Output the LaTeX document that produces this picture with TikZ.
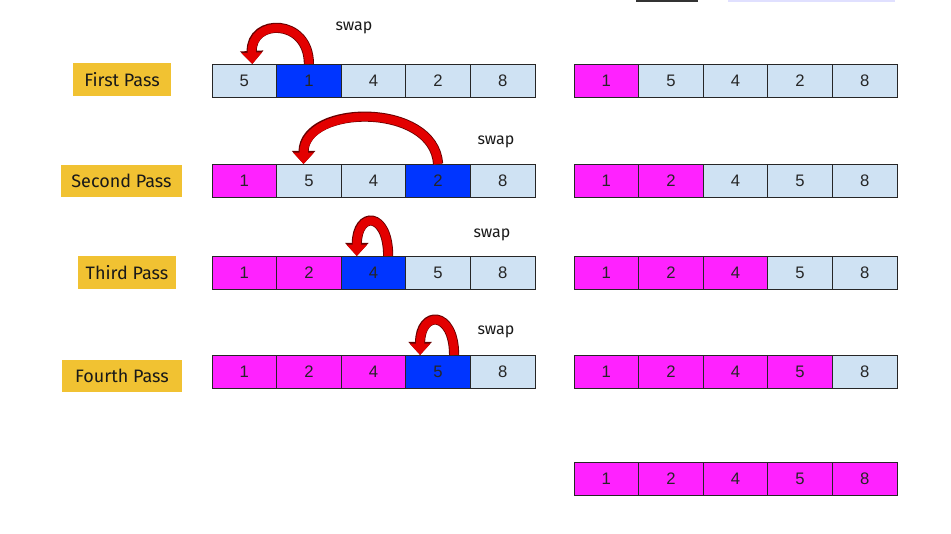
\documentclass[tikz,border=0pt]{standalone}
\usepackage{fontspec}
\setmainfont{Liberation Sans}
\newfontfamily\labelfont{Fira Sans}
\usetikzlibrary{arrows.meta}
\definecolor{lblue}{HTML}{CFE2F3}
\definecolor{dblue}{HTML}{0035FF}
\definecolor{mag}{HTML}{FF22FF}
\definecolor{gold}{HTML}{F1C232}
\definecolor{swapred}{HTML}{E30000}
\newcommand\cellrow[4]{%
  \foreach \c/\v [count=\i] in {#4} {
    \node[cell, fill=\c] (#1c\i) at ({#2+(\i-1)*64.6},#3) {\v};
  }%
}
\begin{document}
\begin{tikzpicture}[x=0.75pt,y=-0.75pt,
  cell/.style={draw=black!85, line width=0.6pt, anchor=north west,
    minimum width=48.45pt, minimum height=24.75pt, inner sep=0pt, outer sep=0pt,
    font=\fontsize{12.5}{13}\selectfont, text=black!85},
  passlabel/.style={fill=gold, inner sep=0pt, font=\labelfont\fontsize{13.5}{14}\selectfont, text=black!90},
  swaptext/.style={font=\labelfont\fontsize{12}{13}\selectfont, text=black!90},
  swaparrow/.style={draw=swapred, line width=6.3pt, -{Triangle[length=8.5pt,width=15pt]},
    preaction={draw=black!60!red, line width=7.6pt, -{Triangle[length=9.8pt,width=17pt]}}}]
\useasboundingbox (0,0) rectangle (951,534);
% cropped fragments at top right
\fill[black!80] (636,0) rectangle (698,2.5);
\fill[blue!12] (728,0) rectangle (895,2);
% labels
\node[passlabel, minimum width=73.5pt, minimum height=24.75pt] (p1) at (122,80) {First Pass};
\node[passlabel, minimum width=90.75pt, minimum height=24pt] (p2) at (121.5,181) {Second Pass};
\node[passlabel, minimum width=73.5pt, minimum height=24.75pt] (p3) at (127,272.5) {Third Pass};
\node[passlabel, minimum width=90pt, minimum height=24pt] (p4) at (122,376) {Fourth Pass};
% rows
\cellrow{L1}{212}{64}{lblue/5,dblue/1,lblue/4,lblue/2,lblue/8}
\cellrow{R1}{574}{64}{mag/1,lblue/5,lblue/4,lblue/2,lblue/8}
\cellrow{L2}{212}{164}{mag/1,lblue/5,lblue/4,dblue/2,lblue/8}
\cellrow{R2}{574}{164}{mag/1,mag/2,lblue/4,lblue/5,lblue/8}
\cellrow{L3}{212}{256}{mag/1,mag/2,dblue/4,lblue/5,lblue/8}
\cellrow{R3}{574}{256}{mag/1,mag/2,mag/4,lblue/5,lblue/8}
\cellrow{L4}{212}{355}{mag/1,mag/2,mag/4,dblue/5,lblue/8}
\cellrow{R4}{574}{355}{mag/1,mag/2,mag/4,mag/5,lblue/8}
\cellrow{R5}{574}{462}{mag/1,mag/2,mag/4,mag/5,mag/8}
% swap texts
\node[swaptext] (s1) at (354,28) {swap};
\node[swaptext] (s2) at (496,142) {swap};
\node[swaptext] (s3) at (492,235) {swap};
\node[swaptext] (s4) at (496,332) {swap};
% swap arrows
\draw[swaparrow] (L1c2.north) .. controls +(0,-46) and +(-2,-46) .. ([xshift=6pt]L1c1.north);
\draw[swaparrow] (L2c4.north) .. controls +(-4,-62) and +(0,-60) .. ([xshift=-4pt]L2c2.north);
\draw[swaparrow] ([xshift=11pt]L3c3.north) .. controls +(0,-45) and +(0,-45) .. ([xshift=-12.5pt]L3c3.north);
\draw[swaparrow] ([xshift=12pt]L4c4.north) .. controls +(0,-45) and +(0,-45) .. ([xshift=-13.5pt]L4c4.north);
\end{tikzpicture}
\end{document}
